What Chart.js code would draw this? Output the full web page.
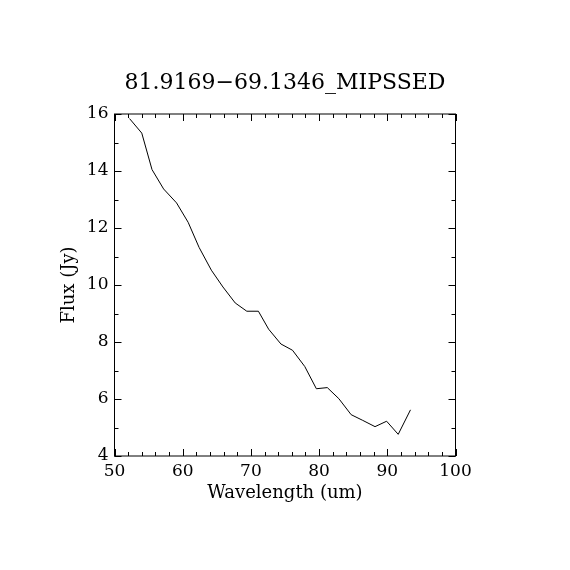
<!DOCTYPE html>
<html>
<head>
<meta charset="utf-8">
<script src="https://cdn.jsdelivr.net/npm/chart.js@4"></script>
<style>
  html, body { margin: 0; padding: 0; background: #fff; }
  #wrap { width: 570px; height: 570px; }
</style>
</head>
<body>
<div id="wrap"><canvas id="chart" width="570" height="570"></canvas></div>
<script>
"use strict";

const TITLE = '81.9169\u221269.1346_MIPSSED';
const X_LABEL = 'Wavelength (um)';
const Y_LABEL = 'Flux (Jy)';

const wavelength = [52.2, 54.0, 55.5, 57.2, 59.1, 60.8, 62.4, 64.2, 65.9, 67.7, 69.4, 71.1, 72.6,
    74.4, 76.1, 77.9, 79.6, 81.2, 82.9, 84.7, 86.4, 88.2, 89.9, 91.6, 93.4];
const flux = [15.84, 15.33, 14.05, 13.37, 12.88, 12.2, 11.32, 10.52, 9.93, 9.37, 9.08, 9.08, 8.45,
    7.93, 7.71, 7.14, 6.36, 6.40, 6.01, 5.45, 5.25, 5.03, 5.22, 4.76, 5.62];

const xMajor = [50, 60, 70, 80, 90, 100];
const xMinor = [52, 54, 56, 58, 62, 64, 66, 68, 72, 74, 76, 78, 82, 84, 86, 88, 92, 94, 96, 98];
const yMajor = [4, 6, 8, 10, 12, 14, 16];
const yMinor = [5, 7, 9, 11, 13, 15];

const FONT = '"DejaVu Serif", "Liberation Serif", serif';

// frame with inward ticks on all four sides, IDL style, plus the centred title
const framePlugin = {
    id: 'frame',
    afterDraw(chart) {
        const { ctx, chartArea: a, scales: { x, y } } = chart;
        ctx.save();
        ctx.strokeStyle = '#000';
        ctx.lineWidth = 1;
        ctx.strokeRect(a.left, a.top, a.right - a.left, a.bottom - a.top);
        ctx.beginPath();
        const xt = (v, len) => {
            const px = Math.round(x.getPixelForValue(v)) + 0.5;
            ctx.moveTo(px, a.bottom); ctx.lineTo(px, a.bottom - len);
            ctx.moveTo(px, a.top); ctx.lineTo(px, a.top + len);
        };
        const yt = (v, len) => {
            const py = Math.round(y.getPixelForValue(v)) + 0.5;
            ctx.moveTo(a.left, py); ctx.lineTo(a.left + len, py);
            ctx.moveTo(a.right, py); ctx.lineTo(a.right - len, py);
        };
        xMajor.forEach(v => xt(v, 7));
        xMinor.forEach(v => xt(v, 4));
        yMajor.forEach(v => yt(v, 7));
        yMinor.forEach(v => yt(v, 4));
        ctx.stroke();

        ctx.fillStyle = '#000';
        ctx.font = '22px ' + FONT;
        ctx.textAlign = 'center';
        ctx.textBaseline = 'middle';
        ctx.fillText(TITLE, chart.width / 2, 83);
        ctx.restore();
    }
};

const ctx = document.getElementById('chart').getContext('2d');
const chart = new Chart(ctx, {
    type: 'line',
    data: {
        datasets: [{
            data: wavelength.map((w, i) => ({ x: w, y: flux[i] })),
            borderColor: '#000',
            borderWidth: 1,
            pointRadius: 0,
            tension: 0,
            fill: false
        }]
    },
    options: {
        responsive: false,
        animation: false,
        layout: { padding: { top: 114, right: 114.5, bottom: 0, left: 0 } },
        scales: {
            x: {
                type: 'linear',
                min: 50,
                max: 100,
                afterFit: s => { s.height = 114; },
                grid: { display: false, drawTicks: false },
                border: { display: false },
                ticks: {
                    stepSize: 10,
                    padding: 5,
                    color: '#000',
                    font: { family: FONT, size: 17 },
                    maxRotation: 0
                },
                title: {
                    display: true,
                    text: X_LABEL,
                    color: '#000',
                    font: { family: FONT, size: 18 },
                    padding: { top: 0, bottom: 66 }
                }
            },
            y: {
                min: 4,
                max: 16,
                afterFit: s => { s.width = 114.5; },
                grid: { display: false, drawTicks: false },
                border: { display: false },
                ticks: {
                    stepSize: 2,
                    padding: 6,
                    color: '#000',
                    font: { family: FONT, size: 17 }
                },
                title: {
                    display: true,
                    text: Y_LABEL,
                    color: '#000',
                    font: { family: FONT, size: 18 },
                    padding: { top: 59, bottom: 0 }
                }
            }
        },
        plugins: {
            legend: { display: false },
            tooltip: { enabled: false },
            title: { display: false }
        }
    },
    plugins: [framePlugin]
});
</script>
</body>
</html>
